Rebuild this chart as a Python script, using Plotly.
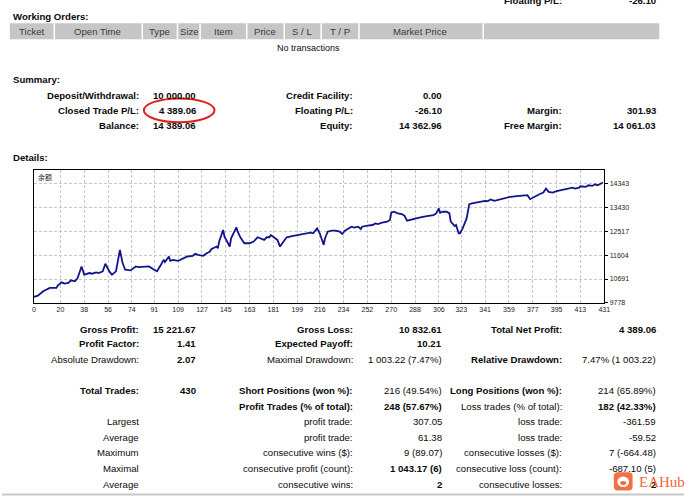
import plotly.graph_objects as go

W, H = 690, 500

# ---------------- data ----------------
trade_no = [0, 3, 7, 10, 12, 17, 18, 21, 23, 26, 28, 31, 33, 36, 38, 42, 44, 47, 49, 52,
            54, 57, 59, 62, 65, 67, 69, 73, 77, 79, 83, 87, 90, 93, 96, 98, 99, 102, 103, 105,
            109, 113, 116, 120, 122, 124, 128, 130, 133, 134, 136, 138, 139, 140, 143, 144, 148, 149, 153, 154,
            156, 159, 163, 166, 169, 171, 174, 176, 178, 179, 181, 184, 186, 189, 191, 196, 200, 204, 209, 211,
            214, 216, 219, 220, 222, 225, 228, 231, 233, 235, 237, 240, 242, 245, 247, 248, 252, 256, 258, 260,
            263, 267, 269, 270, 272, 275, 278, 280, 282, 284, 287, 292, 297, 302, 304, 306, 307, 309, 312, 314,
            315, 317, 318, 319, 321, 322, 324, 327, 329, 331, 334, 338, 341, 343, 345, 348, 350, 353, 357, 360,
            365, 370, 373, 375, 378, 382, 385, 387, 389, 392, 395, 399, 403, 407, 409, 412, 413, 417, 419, 422,
            424, 426, 430]
balance = [10006, 10057, 10222, 10311, 10349, 10349, 10437, 10564, 10513, 10539, 10640, 10602, 10729, 11173, 10856, 10919, 10894, 10945, 10919, 10983,
           11274, 10983, 10856, 10983, 11807, 11300, 11046, 11021, 11173, 11147, 11173, 11173, 11071, 10983, 11236, 11426, 11338, 11553, 11388, 11426,
           11388, 11490, 11553, 11579, 11655, 11617, 11579, 11655, 11743, 11832, 11870, 11934, 11870, 12124, 12568, 12314, 11934, 12251, 12669, 12504,
           12289, 12060, 12060, 12124, 12289, 12251, 12187, 12289, 12289, 12377, 12314, 12187, 11934, 12162, 12289, 12339, 12377, 12441, 12466, 12441,
           12631, 12441, 11997, 12251, 12504, 12542, 12542, 12504, 12415, 12542, 12593, 12694, 12656, 12694, 12606, 12694, 12732, 12758, 12821, 12796,
           12847, 12885, 12948, 13227, 13265, 13202, 13176, 13113, 12923, 12948, 13011, 13049, 13100, 13138, 13202, 13392, 13227, 13265, 13265, 13202,
           12885, 12796, 12720, 12758, 12441, 12441, 12631, 13011, 13557, 13582, 13620, 13645, 13684, 13671, 13734, 13684, 13709, 13747, 13810, 13836,
           13861, 13899, 13899, 13747, 13836, 13937, 14000, 14153, 14026, 14000, 14051, 14089, 14153, 14191, 14153, 14191, 14241, 14216, 14280, 14254,
           14317, 14280, 14385]

x_ticks = [0, 20, 38, 56, 74, 91, 109, 127, 145, 163, 181, 199, 216, 234, 252, 270,
           288, 306, 323, 341, 359, 377, 395, 413, 431]
y_ticks = [9778, 10691, 11604, 12517, 13430, 14343]
chart_label = "余额"

order_headers = ["Ticket", "Open Time", "Type", "Size", "Item", "Price", "S / L", "T / P", "Market Price"]

summary_rows = [
    ["Deposit/Withdrawal:", "10 000.00", "Credit Facility:", "0.00", "", ""],
    ["Closed Trade P/L:", "4 389.06", "Floating P/L:", "-26.10", "Margin:", "301.93"],
    ["Balance:", "14 389.06", "Equity:", "14 362.96", "Free Margin:", "14 061.03"],
]

detail_rows = [
    ["Gross Profit:", "15 221.67", "Gross Loss:", "10 832.61", "Total Net Profit:", "4 389.06"],
    ["Profit Factor:", "1.41", "Expected Payoff:", "10.21", "", ""],
    ["Absolute Drawdown:", "2.07", "Maximal Drawdown:", "1 003.22 (7.47%)", "Relative Drawdown:", "7.47% (1 003.22)"],
    ["Total Trades:", "430", "Short Positions (won %):", "216 (49.54%)", "Long Positions (won %):", "214 (65.89%)"],
    ["", "", "Profit Trades (% of total):", "248 (57.67%)", "Loss trades (% of total):", "182 (42.33%)"],
    ["Largest", "", "profit trade:", "307.05", "loss trade:", "-361.59"],
    ["Average", "", "profit trade:", "61.38", "loss trade:", "-59.52"],
    ["Maximum", "", "consecutive wins ($):", "9 (89.07)", "consecutive losses ($):", "7 (-664.48)"],
    ["Maximal", "", "consecutive profit (count):", "1 043.17 (6)", "consecutive loss (count):", "-687.10 (5)"],
    ["Average", "", "consecutive wins:", "2", "consecutive losses:", "2"],
]
detail_bold = [
    [True, True, True, True, True, True],
    [True, True, True, True, False, False],
    [False, True, False, False, True, False],
    [True, True, True, False, True, False],
    [False, False, True, True, False, True],
    [False, False, False, False, False, False],
    [False, False, False, False, False, False],
    [False, False, False, False, False, False],
    [False, False, False, True, False, False],
    [False, False, False, True, False, True],
]

# ---------------- layout helpers ----------------
def X(px):
    return px / W

def Y(py):
    return 1 - py / H

FONT = "Liberation Sans, Arial, sans-serif"
FS = 9.6
col_right = [139.5, 197.5, 356, 446, 567.4, 663]

annotations = []
shapes = []

def text(px, py, s, anchor="right", bold=False, size=FS, color="#0a0a0a", family=FONT):
    if not s:
        return
    annotations.append(dict(
        x=X(px), y=Y(py), xref="paper", yref="paper", showarrow=False,
        text=f"<b>{s}</b>" if bold else s, xanchor=anchor, yanchor="middle",
        borderpad=0, font=dict(family=family, size=size, color=color)))

# cut-off row on top
text(568, 0, "Floating P/L:", bold=True)
text(663, 0, "-26.10", bold=True)

# Working orders
text(9.7, 17, "Working Orders:", anchor="left", bold=True)
shapes.append(dict(type="rect", xref="paper", yref="paper", x0=X(7.9), x1=X(665), y0=Y(39.5), y1=Y(23.5),
                   fillcolor="#c6c6c6", line=dict(width=0), layer="below"))
for sx in [52.9, 141.9, 177.5, 200.4, 247.6, 285.5, 322.9, 361.2, 486.8]:
    shapes.append(dict(type="line", xref="paper", yref="paper", x0=X(sx), x1=X(sx), y0=Y(39.5), y1=Y(23.5),
                       line=dict(color="white", width=1.5)))
for cx, h in zip([30, 97, 159.5, 189.4, 223.8, 266, 304, 341.9, 423], order_headers):
    text(cx, 32, h, anchor="center", color="#3a3a3a")
text(309.7, 48, "No transactions", anchor="center", size=9)

# Summary
text(9.7, 79.5, "Summary:", anchor="left", bold=True)
for row, py in zip(summary_rows, [95.7, 110.7, 126.7]):
    for i, s in enumerate(row):
        text(col_right[i], py, s, bold=True)

# red ellipse
shapes.append(dict(type="circle", xref="paper", yref="paper", x0=X(143.5), x1=X(215), y0=Y(123), y1=Y(99),
                   line=dict(color="#e0201c", width=2)))

# Details
text(9.7, 158, "Details:", anchor="left", bold=True)
for row, bolds, py in zip(detail_rows, detail_bold,
                          [331, 346, 361.5, 393.2, 408.8, 424.3, 440.3, 455.7, 471.7, 487.5]):
    for i, s in enumerate(row):
        text(col_right[i], py, s, bold=bolds[i])

# chart label
text(35, 178.5, chart_label, anchor="left", size=7, color="#222222",
     family="Noto Sans CJK SC, sans-serif")

# bottom separator
shapes.append(dict(type="line", xref="paper", yref="paper", x0=0, x1=1, y0=Y(497.5), y1=Y(497.5),
                   line=dict(color="#c8c8c8", width=2)))

# EAHub watermark
ox0, ox1, oy0, oy1, r = 619, 638, 475, 493.5, 4
path = (f"M {X(ox0 + r)},{Y(oy0)} L {X(ox1 - r)},{Y(oy0)} Q {X(ox1)},{Y(oy0)} {X(ox1)},{Y(oy0 + r)} "
        f"L {X(ox1)},{Y(oy1 - r)} Q {X(ox1)},{Y(oy1)} {X(ox1 - r)},{Y(oy1)} "
        f"L {X(ox0 + r)},{Y(oy1)} Q {X(ox0)},{Y(oy1)} {X(ox0)},{Y(oy1 - r)} "
        f"L {X(ox0)},{Y(oy0 + r)} Q {X(ox0)},{Y(oy0)} {X(ox0 + r)},{Y(oy0)} Z")
shapes.append(dict(type="path", xref="paper", yref="paper", path=path, fillcolor="#f2673a",
                   line=dict(width=0), opacity=0.95))
shapes.append(dict(type="circle", xref="paper", yref="paper", x0=X(622.5), x1=X(634.5), y0=Y(490), y1=Y(479.5),
                   fillcolor="white", line=dict(width=0)))
shapes.append(dict(type="circle", xref="paper", yref="paper", x0=X(625.5), x1=X(631.5), y0=Y(488), y1=Y(484),
                   fillcolor="#f2673a", line=dict(width=0)))
text(643, 485, "EAHub", anchor="left", size=15, color="#f2673a", family="Liberation Serif, serif")

fig = go.Figure()
fig.add_trace(go.Scatter(x=trade_no, y=balance, mode="lines",
                         line=dict(color="#14148a", width=1.8), hoverinfo="skip"))

fig.update_layout(
    width=W, height=H, margin=dict(l=0, r=0, t=0, b=0),
    paper_bgcolor="white", plot_bgcolor="white", showlegend=False,
    annotations=annotations, shapes=shapes,
    xaxis=dict(domain=[X(32.3), X(609.3)], range=[0, 431], tickvals=x_ticks,
               ticktext=[str(t) for t in x_ticks], tickangle=0,
               showgrid=True, gridcolor="#c8c8c8", griddash="3px,2px", gridwidth=1,
               showline=True, linecolor="black", linewidth=1, mirror=True, zeroline=False,
               ticks="", tickfont=dict(family=FONT, size=7, color="#222222")),
    yaxis=dict(domain=[Y(304.7), Y(170.7)], range=[9778, 14876], side="right", tickvals=y_ticks,
               ticktext=[str(t) for t in y_ticks],
               showgrid=True, gridcolor="#c8c8c8", griddash="3px,2px", gridwidth=1,
               showline=True, linecolor="black", linewidth=1, mirror=True, zeroline=False,
               ticks="outside", ticklen=3, tickcolor="black",
               tickfont=dict(family=FONT, size=7, color="#222222")),
)

fig.write_html("out.html", config={"responsive": False, "displayModeBar": False},
               post_script="document.body.style.margin='0';document.body.style.overflow='hidden';")
